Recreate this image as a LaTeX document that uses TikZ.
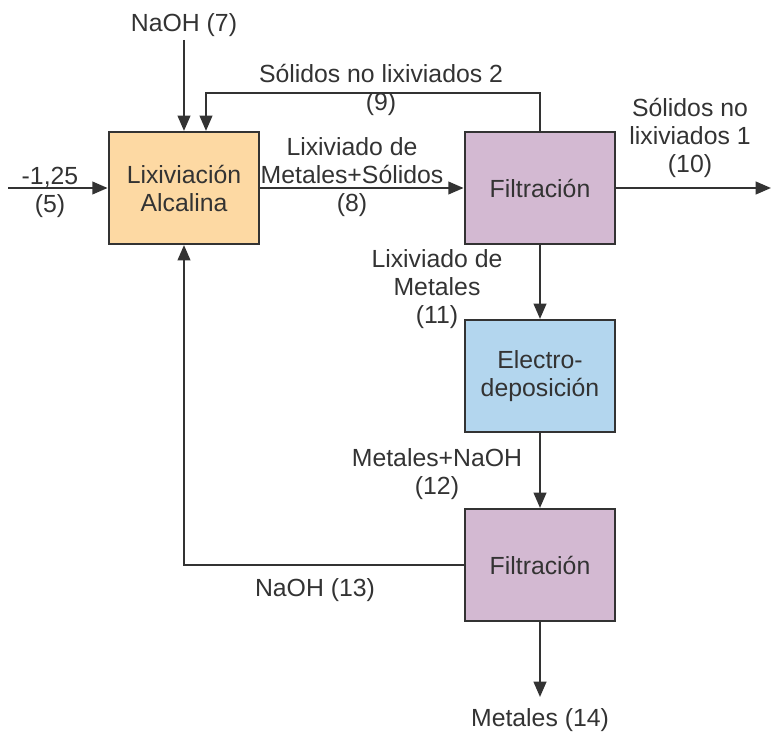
\documentclass[tikz,border=0pt]{standalone}
\usepackage{fontspec}
\setmainfont{Liberation Sans}
\usetikzlibrary{arrows.meta}
\definecolor{edgec}{HTML}{333333}
\definecolor{orangeF}{HTML}{FDD9A3}
\definecolor{purpleF}{HTML}{D3B9D2}
\definecolor{blueF}{HTML}{B3D6EE}
\begin{document}
\begin{tikzpicture}[x=0.75pt,y=-0.75pt,
  every node/.style={text=edgec,font=\fontsize{18.6}{21}\selectfont,align=center},
  proc/.style={draw=edgec,line width=1.6pt,minimum width=113pt,minimum height=84pt},
  flow/.style={draw=edgec,line width=1.6pt,-{Triangle[length=11.5pt,width=9.5pt]}}]
\useasboundingbox (0,0) rectangle (771,735);
\node[proc,fill=orangeF] (la) at (184,188) {Lixiviación\\Alcalina};
\node[proc,fill=purpleF] (f1) at (540,188) {Filtración};
\node[proc,fill=blueF] (ed) at (540,376) {Electro-\\deposición};
\node[proc,fill=purpleF] (f2) at (540,565) {Filtración};
\coordinate (in5) at (8,188);
\coordinate (naoh7) at (184,40);
\coordinate (c9) at (206,93);
\coordinate (out10) at (771,188);
\coordinate (out14) at (540,697);
\draw[flow] (in5) -- (la.west);
\draw[flow] (naoh7) -- (naoh7 |- la.north);
\draw[flow] (f1.north) |- (c9) -- (c9 |- la.north);
\draw[flow] (la.east) -- (f1.west);
\draw[flow] (f1.east) -- (out10);
\draw[flow] (f1.south) -- (ed.north);
\draw[flow] (ed.south) -- (f2.north);
\draw[flow] (f2.west) -| (la.south);
\draw[flow] (f2.south) -- (out14);
\node (l7) at (184,25) {NaOH (7)};
\node (l5) at (50,192) {-1,25\\(5)};
\node (l9) at (381,90) {Sólidos no lixiviados 2\\(9)};
\node (l8) at (352,177) {Lixiviado de\\Metales+Sólidos\\(8)};
\node (l10) at (690,138) {Sólidos no\\lixiviados 1\\(10)};
\node (l11) at (437,289) {Lixiviado de\\Metales\\(11)};
\node (l12) at (437,474) {Metales+NaOH\\(12)};
\node (l13) at (315,590) {NaOH (13)};
\node (l14) at (540,720) {Metales (14)};
\end{tikzpicture}
\end{document}
